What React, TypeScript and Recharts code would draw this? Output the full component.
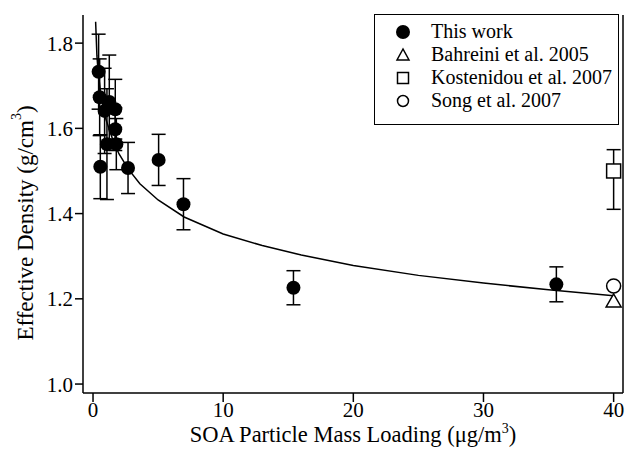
import { ComposedChart, Scatter, XAxis, YAxis, ErrorBar } from 'recharts'

// This work: effective density vs SOA mass loading
const loading = [0.43, 0.51, 0.56, 0.89, 1.07, 1.25, 1.71, 1.71, 1.79, 2.69, 5.04, 6.95, 15.4, 35.6]
const density = [1.733, 1.673, 1.51, 1.641, 1.563, 1.662, 1.645, 1.598, 1.563, 1.507, 1.526, 1.422, 1.226, 1.234]
const densityErr = [0.088, 0.09, 0.075, 0.1, 0.13, 0.11, 0.07, 0.05, 0.06, 0.06, 0.06, 0.06, 0.04, 0.041]

// literature values at 40 ug/m3
const bahreini = [{ x: 40, y: 1.195 }]
const kostenidou = [{ x: 40, y: 1.5, err: [0.09, 0.05] }]
const song = [{ x: 40, y: 1.23 }]

// fit curve
const fitX = [0.2, 0.3, 0.4, 0.6, 0.8, 1.0, 1.5, 2, 2.7, 3.6, 5, 7, 10, 13, 16, 20, 25, 30, 35, 40]
const fitY = [1.85, 1.77, 1.73, 1.68, 1.645, 1.62, 1.575, 1.54, 1.505, 1.47, 1.432, 1.392, 1.352, 1.325, 1.303, 1.278, 1.255, 1.237, 1.221, 1.207]

const xTicks = [0, 10, 20, 30, 40]
const yTicks = [1.0, 1.2, 1.4, 1.6, 1.8]

const thisWork = loading.map((x, i) => ({ x, y: density[i], err: densityErr[i] }))
const fit = fitX.map((x, i) => ({ x, y: fitY[i] }))

const FONT = "'Liberation Serif', 'DejaVu Serif', serif"
const X_DOMAIN = [-0.77, 40.72]
const Y_DOMAIN = [0.979, 1.866]

const FilledDot = (p: any) => <circle cx={p.cx} cy={p.cy} r={7} fill="#000" />
const OpenCircle = (p: any) => <circle cx={p.cx} cy={p.cy} r={7} fill="#fff" stroke="#000" strokeWidth={1.5} />
const OpenSquare = (p: any) => (
  <rect x={p.cx - 7} y={p.cy - 7} width={14} height={14} fill="#fff" stroke="#000" strokeWidth={1.5} />
)
const OpenTriangle = (p: any) => (
  <polygon
    points={`${p.cx},${p.cy - 7} ${p.cx - 7.5},${p.cy + 6} ${p.cx + 7.5},${p.cy + 6}`}
    fill="#fff"
    stroke="#000"
    strokeWidth={1.5}
  />
)
const NoDot = () => <g />

const XTitle = (props: any) => {
  const { x, y, width } = props.viewBox
  return (
    <text x={x + width / 2} y={y + 49} textAnchor="middle" style={{ fontFamily: FONT }} fontSize={22.5} fill="#000">
      SOA Particle Mass Loading (μg/m<tspan dy={-9} fontSize={14}>3</tspan>
      <tspan dy={9}>)</tspan>
    </text>
  )
}

const YTitle = (props: any) => {
  const { y, height } = props.viewBox
  const cx = 25
  const cy = y + height / 2 + 19
  return (
    <text
      x={cx}
      y={cy}
      transform={`rotate(-90 ${cx} ${cy})`}
      textAnchor="middle"
      dominantBaseline="central"
      style={{ fontFamily: FONT }}
      fontSize={23}
      fill="#000"
    >
      Effective Density (g/cm<tspan dy={-9} fontSize={14}>3</tspan>
      <tspan dy={9}>)</tspan>
    </text>
  )
}

const legendRows = [
  { name: 'This work', kind: 'filled' },
  { name: 'Bahreini et al. 2005', kind: 'triangle' },
  { name: 'Kostenidou et al. 2007', kind: 'square' },
  { name: 'Song et al. 2007', kind: 'circle' },
]

const LegendMarker = ({ kind }: { kind: string }) => (
  <svg width={16} height={16} style={{ display: 'block' }}>
    {kind === 'filled' && <circle cx={8} cy={8} r={7} fill="#000" />}
    {kind === 'triangle' && <polygon points="8,2 2,13 14,13" fill="none" stroke="#000" strokeWidth={1.5} />}
    {kind === 'square' && <rect x={2.5} y={2.5} width={11} height={11} fill="none" stroke="#000" strokeWidth={1.5} />}
    {kind === 'circle' && <circle cx={8} cy={8} r={5.5} fill="none" stroke="#000" strokeWidth={1.5} />}
  </svg>
)

const tickStyle = { fontFamily: FONT, fontSize: 21, fill: '#000', style: { fontFamily: FONT } }

const App = () => {
  return (
    <div style={{ position: 'absolute', left: 0, top: 0, width: 629, height: 460, background: '#fff', fontFamily: FONT }}>
      <ComposedChart width={629} height={460} margin={{ top: 15, right: 0, bottom: 7, left: 0 }} style={{ fontFamily: FONT }}>
        <XAxis
          xAxisId="b"
          dataKey="x"
          type="number"
          domain={X_DOMAIN}
          ticks={xTicks}
          allowDataOverflow
          height={60}
          tickSize={9}
          tickMargin={0}
          stroke="#000"
          strokeWidth={1.5}
          tick={tickStyle}
          label={<XTitle />}
        />
        <XAxis
          xAxisId="t"
          dataKey="x"
          type="number"
          orientation="top"
          domain={X_DOMAIN}
          allowDataOverflow
          height={0}
          tick={false}
          tickLine={false}
          stroke="#000"
          strokeWidth={1.5}
        />
        <YAxis
          yAxisId="l"
          dataKey="y"
          type="number"
          domain={Y_DOMAIN}
          ticks={yTicks}
          allowDataOverflow
          width={83}
          tickSize={8}
          stroke="#000"
          strokeWidth={1.5}
          tickFormatter={(v: number) => v.toFixed(1)}
          tick={tickStyle}
          label={<YTitle />}
        />
        <YAxis
          yAxisId="r"
          dataKey="y"
          type="number"
          orientation="right"
          domain={Y_DOMAIN}
          ticks={yTicks}
          allowDataOverflow
          width={6}
          tickSize={8}
          tick={false}
          stroke="#000"
          strokeWidth={1.5}
        />
        <Scatter
          data={fit}
          xAxisId="t"
          yAxisId="r"
          line={{ stroke: '#000', strokeWidth: 1.5 }}
          lineType="joint"
          shape={NoDot}
          isAnimationActive={false}
        />
        <Scatter data={thisWork} xAxisId="b" yAxisId="l" shape={FilledDot} isAnimationActive={false}>
          <ErrorBar dataKey="err" direction="y" width={7} stroke="#000" strokeWidth={1.5} isAnimationActive={false} />
        </Scatter>
        <Scatter data={kostenidou} xAxisId="b" yAxisId="l" shape={OpenSquare} isAnimationActive={false}>
          <ErrorBar dataKey="err" direction="y" width={7} stroke="#000" strokeWidth={1.5} isAnimationActive={false} />
        </Scatter>
        <Scatter data={bahreini} xAxisId="b" yAxisId="l" shape={OpenTriangle} isAnimationActive={false} />
        <Scatter data={song} xAxisId="b" yAxisId="l" shape={OpenCircle} isAnimationActive={false} />
      </ComposedChart>
      <div
        style={{
          position: 'absolute',
          left: 374,
          top: 14,
          width: 245,
          height: 111,
          boxSizing: 'border-box',
          border: '1.5px solid #000',
          background: '#fff',
          fontFamily: FONT,
          fontSize: 20,
          paddingTop: 5,
        }}
      >
        {legendRows.map((r) => (
          <div key={r.name} style={{ display: 'flex', alignItems: 'center', height: 23, lineHeight: '23px' }}>
            <div style={{ width: 56, display: 'flex', justifyContent: 'center' }}>
              <LegendMarker kind={r.kind} />
            </div>
            <span>{r.name}</span>
          </div>
        ))}
      </div>
    </div>
  )
}

export default App
